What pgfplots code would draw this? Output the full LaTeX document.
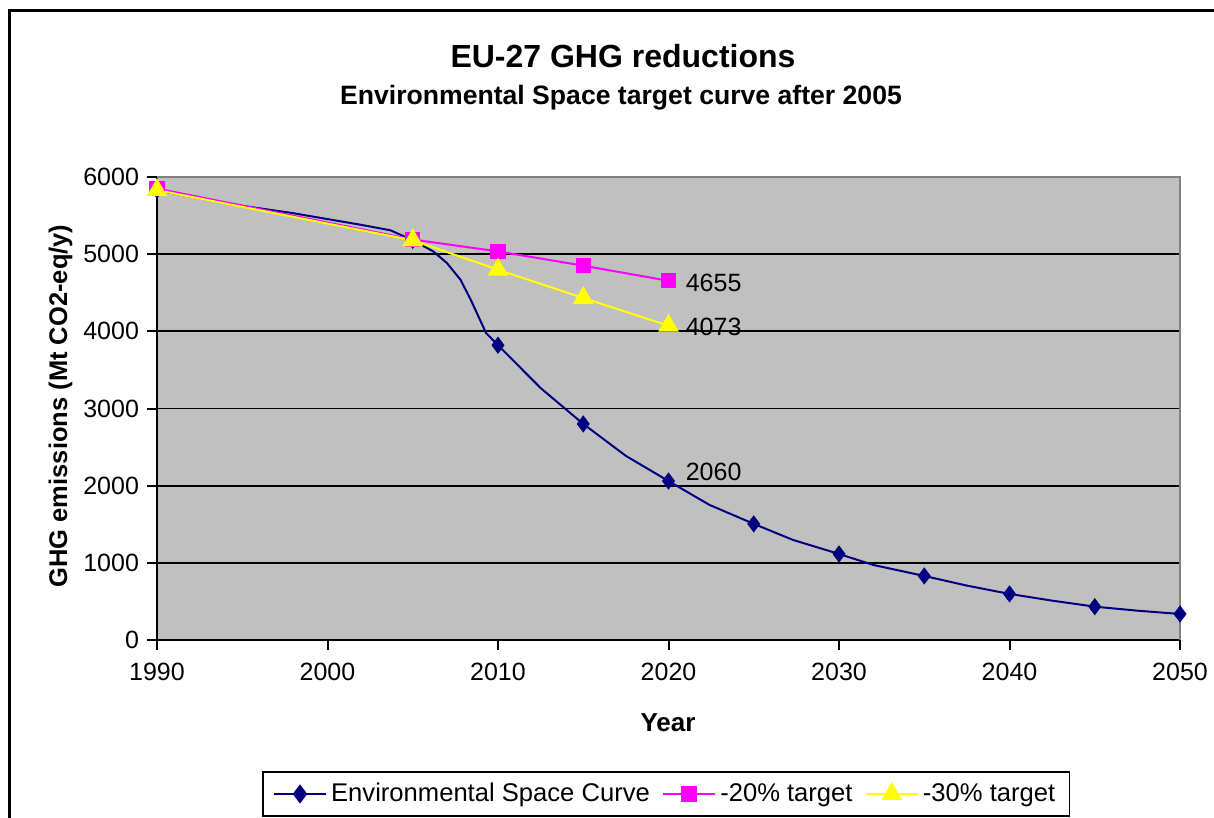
\documentclass[border=0pt]{standalone}
\usepackage{fontspec}
\setmainfont{Liberation Sans}
\usepackage{pgfplots}
\pgfplotsset{compat=1.18}
\definecolor{esblue}{HTML}{000080}
\definecolor{pinkc}{HTML}{FF00FF}
\definecolor{yelc}{HTML}{FFFF00}
\definecolor{bggray}{HTML}{C0C0C0}
\definecolor{bordgray}{HTML}{808080}
\begin{document}
\begin{tikzpicture}
\useasboundingbox (0,0) rectangle (607pt,409pt);
\draw[line width=1.5pt] (4.5pt,-2pt) -- (4.5pt,403.5pt) -- (612pt,403.5pt);
\begin{axis}[
 at={(78.5pt,89pt)}, anchor=south west,
 scale only axis, width=511.5pt, height=231.5pt,
 xmin=1990, xmax=2050, ymin=0, ymax=6000,
 xtick={1990,2000,...,2050}, ytick={0,1000,...,6000},
 axis line style={line width=0.8pt, black},
 xtick style={draw=black, line width=1pt},
 ytick style={draw=black, line width=1pt},
 xtick align=outside, ytick align=outside,
 xtick pos=bottom, ytick pos=left,
 major tick length=5pt,
 ymajorgrids, grid style={black, line width=0.9pt},
 axis background/.style={fill=bggray},
 /pgf/number format/assume math mode=true,
 /pgf/number format/1000 sep={},
 ticklabel style={font=\fontsize{12.5}{15}\selectfont},
 xticklabel style={yshift=-3pt},
 yticklabel style={xshift=-0.5pt},
 clip=false,
 legend style={at={(0.4976,-0.3326)}, anchor=center, legend columns=3,
   draw=black, line width=0.8pt, font=\fontsize{12.8}{15}\selectfont,
   inner xsep=5pt, inner ysep=3.5pt,
   /tikz/every even column/.append style={column sep=4pt}},
 legend image code/.code={\draw[mark repeat=2,mark phase=2] plot coordinates {(0cm,0cm) (0.46cm,0cm) (0.92cm,0cm)};},
 legend cell align=left,
]
% Environmental Space Curve (traced line)
\addplot[esblue, line width=1pt, forget plot] coordinates {
 (1990,5830) (1994.5,5642) (1997.8,5538) (2001.9,5383) (2003.7,5309)
 (2005,5180) (2006.2,5036) (2007.0,4886) (2007.8,4669) (2008.4,4410)
 (2009.3,3978) (2010,3820) (2012.5,3265) (2015,2800) (2017.5,2386)
 (2020,2060) (2022.4,1751) (2025,1505) (2027.3,1297) (2030,1115)
 (2032,973) (2035,830) (2037.5,705) (2040,597) (2042.5,510)
 (2045,432) (2047.5,380) (2050,337)
};
\addplot[esblue, only marks, mark=diamond*, mark size=4pt, forget plot] coordinates {
 (1990,5830) (2005,5180) (2010,3820) (2015,2800) (2020,2060) (2025,1505)
 (2030,1115) (2035,830) (2040,597) (2045,432) (2050,337)
};
\addlegendimage{esblue, line width=1pt, mark=diamond*, mark size=4pt}
\addlegendentry{Environmental Space Curve}
\addplot[pinkc, line width=1pt, mark=square*, mark size=3.3pt] coordinates {
 (1990,5850) (2005,5190) (2010,5036) (2015,4851) (2020,4655)
};
\addlegendentry{-20\% target}
\addplot[yelc, line width=1pt, mark=triangle*, mark size=5pt] coordinates {
 (1990,5830) (2005,5180) (2010,4799) (2015,4432) (2020,4073)
};
\addlegendentry{-30\% target}
\draw[bordgray, line width=0.9pt] (rel axis cs:0,1) -- (rel axis cs:1,1) -- (rel axis cs:1,0);
\node[anchor=west, font=\fontsize{12.5}{15}\selectfont] at (axis cs:2020.6,4630) {4655};
\node[anchor=west, font=\fontsize{12.5}{15}\selectfont] at (axis cs:2020.6,4060) {4073};
\node[anchor=west, font=\fontsize{12.5}{15}\selectfont] at (axis cs:2020.6,2179) {2060};
\end{axis}
\node[anchor=base, font=\bfseries\fontsize{16}{19}\selectfont] at (311.5pt,375pt) {EU-27 GHG reductions};
\node[anchor=base, font=\bfseries\fontsize{13.3}{16}\selectfont] at (310.5pt,356.5pt) {Environmental Space target curve after 2005};
\node[anchor=base, rotate=90, font=\bfseries\fontsize{12.75}{15}\selectfont] at (33.5pt,206pt) {GHG emissions (Mt CO2-eq/y)};
\node[anchor=base, font=\bfseries\fontsize{13}{15}\selectfont] at (334pt,43pt) {Year};
\end{tikzpicture}
\end{document}
